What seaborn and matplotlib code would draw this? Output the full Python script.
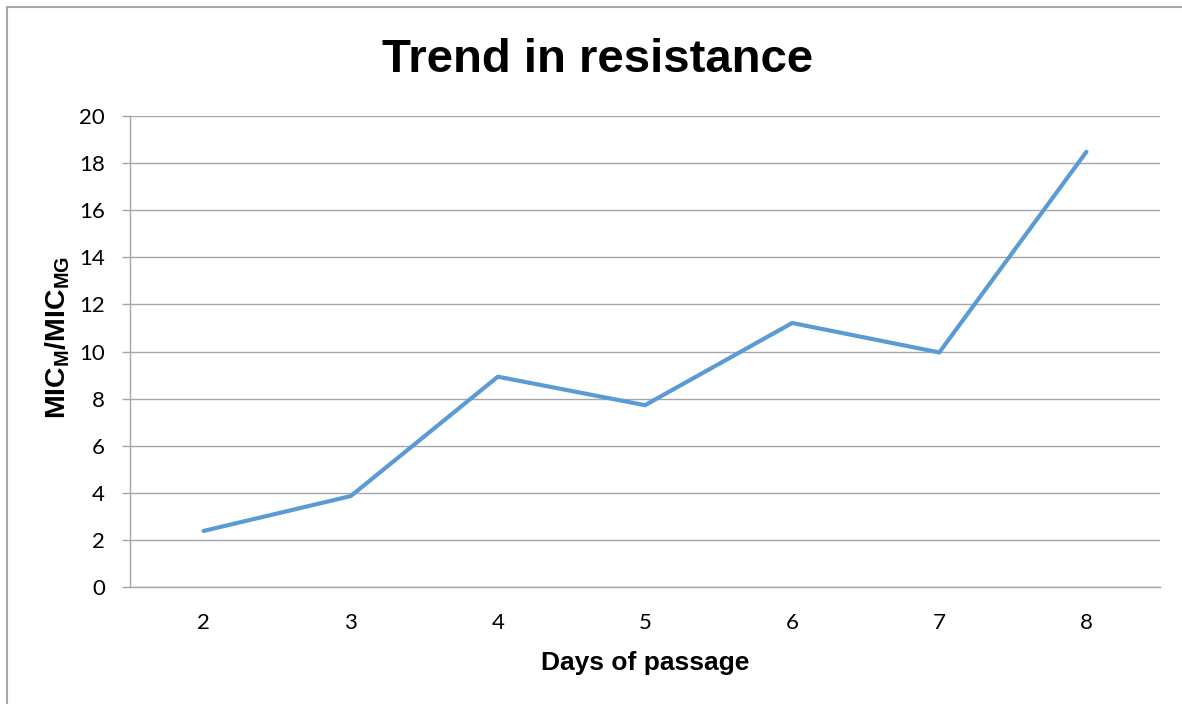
import matplotlib
matplotlib.use('Agg')
import matplotlib.pyplot as plt
import seaborn as sns
import pandas as pd
from matplotlib.lines import Line2D

# Values
days = [2, 3, 4, 5, 6, 7, 8]
ratio = [2.38, 3.86, 8.93, 7.72, 11.21, 9.96, 18.48]
y_ticks = [0, 2, 4, 6, 8, 10, 12, 14, 16, 18, 20]

df = pd.DataFrame({'day': days, 'ratio': ratio})

sns.set_style('white')
plt.rcParams['font.family'] = ['Lato', 'DejaVu Sans']
plt.rcParams['mathtext.fontset'] = 'custom'
plt.rcParams['mathtext.bf'] = 'Liberation Sans:bold'
plt.rcParams['mathtext.rm'] = 'Liberation Sans'
plt.rcParams['mathtext.it'] = 'Liberation Sans:italic'
plt.rcParams['text.color'] = 'black'
plt.rcParams['axes.labelcolor'] = 'black'
plt.rcParams['xtick.color'] = 'black'
plt.rcParams['ytick.color'] = 'black'

fig = plt.figure(figsize=(11.82, 7.04), dpi=100)
ax = fig.add_axes([130 / 1182, 1 - 587 / 704, 1030 / 1182, 471 / 704])

sns.lineplot(data=df, x='day', y='ratio', ax=ax, color='#5B9BD5', linewidth=3.0)

grid_col = '#A6A6A6'
ax.set_xlim(1.5, 8.5)
ax.set_ylim(0, 20)
ax.set_yticks(y_ticks)
ax.set_xticks(days)
ax.yaxis.grid(True, color=grid_col, linewidth=1.0)
ax.xaxis.grid(False)
ax.set_axisbelow(True)

for side in ['top', 'right']:
    ax.spines[side].set_visible(False)
for side in ['left', 'bottom']:
    ax.spines[side].set_color(grid_col)
    ax.spines[side].set_linewidth(1.0)

ax.tick_params(axis='y', length=6, width=1.0, color=grid_col, labelcolor='black', pad=12,
               labelsize=16, left=True)
ax.tick_params(axis='x', length=0, pad=19, labelsize=16, labelcolor='black')

ax.set_xlabel('Days of passage', fontsize=19, fontweight='bold', family='Liberation Sans',
              labelpad=13, color='black')
ax.set_ylabel(r'$\mathbf{MIC_{M}/MIC_{MG}}$', fontsize=20.5, color='black')
ax.yaxis.set_label_coords(-0.056, 0.53)

fig.text(598 / 1182, 1 - 60 / 704, 'Trend in resistance', fontsize=34, fontweight='bold',
         family='Liberation Sans', ha='center', va='center', color='black')

# outer chart border (left and top edges visible)
fig.add_artist(Line2D([7 / 1182, 7 / 1182], [0, 1 - 7 / 704], color='#A6A6A6', linewidth=1.5,
                      transform=fig.transFigure))
fig.add_artist(Line2D([7 / 1182, 1], [1 - 7 / 704, 1 - 7 / 704], color='#A6A6A6', linewidth=1.5,
                      transform=fig.transFigure))

fig.savefig('out.png', dpi=100)
